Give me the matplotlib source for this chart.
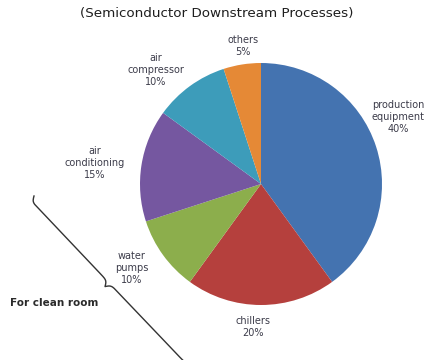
import numpy as np
import matplotlib
matplotlib.use('Agg')
from matplotlib import pyplot as plt

# share of electricity use, downstream fab processes
categories = ['production\nequipment', 'chillers', 'water\npumps',
              'air\nconditioning', 'air\ncompressor', 'others']
shares = [40, 20, 10, 15, 10, 5]

colors = ['#4473b0', '#b5403d', '#8cae4c', '#7557a0', '#3d9cba', '#e58936']
# label centres in pixel space (x right, y down)
label_pos = [(398, 117), (253, 327), (132, 268), (95, 163), (156, 70), (243, 46)]

W, H = 433, 360
fig = plt.figure(figsize=(W / 100, H / 100), dpi=100)
ax = fig.add_axes([0, 0, 1, 1])

#------pie------
ax.pie(shares, colors=colors, startangle=90, counterclock=False,
       center=(261, H - 184), radius=121, frame=True,
       wedgeprops=dict(linewidth=0))
ax.set_xlim(0, W)
ax.set_ylim(0, H)
ax.set_aspect('equal')
ax.axis('off')

for cat, val, (px, py) in zip(categories, shares, label_pos):
    ax.text(px, H - py, f'{cat}\n{val}%', ha='center', va='center',
            fontsize=7, color='#3c3c4a', linespacing=1.3)

ax.text(W / 2, H - 14, '(Semiconductor Downstream Processes)', ha='center',
        va='center', fontsize=9.7, color='#1e1e1e')

#------curly brace along the clean-room slices------
def brace(a, b, h, beta=0.6, n=300):
    a = np.array(a, float)
    b = np.array(b, float)
    d = b - a
    L = np.hypot(*d)
    t = d / L
    nrm = np.array([-t[1], t[0]])
    u = np.linspace(0, L / 2, n)
    half = 1 / (1 + np.exp(-beta * (u - u[0]))) + 1 / (1 + np.exp(-beta * (u - u[-1])))
    half = (half - half[0]) / (half[-1] - half[0])
    v = np.concatenate([half, half[::-1]]) * h
    s = np.concatenate([u, u + L / 2])
    pts = a + np.outer(s, t) + np.outer(v, nrm)
    return pts[:, 0], pts[:, 1]

bx, by = brace((192, H - 362), (34, H - 196), 11)
ax.plot(bx, by, color='#333333', lw=1)

ax.text(10, H - 303, 'For clean room', ha='left', va='center',
        fontsize=7.5, fontweight='bold', color='#2a2a2a')

fig.savefig('out.png', dpi=100, facecolor='white')
